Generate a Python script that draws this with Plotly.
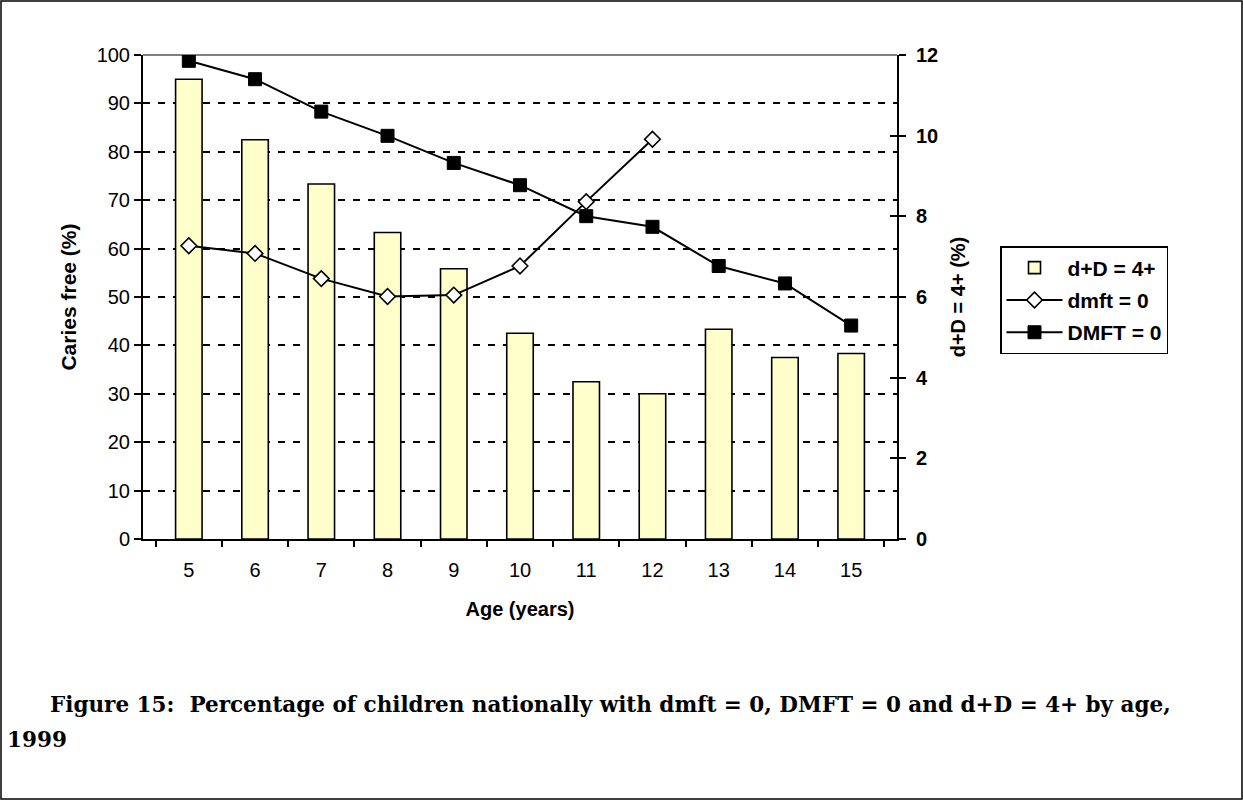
import plotly.graph_objects as go

ages = ["5", "6", "7", "8", "9", "10", "11", "12", "13", "14", "15"]
d_plus_D_4plus = [11.4, 9.9, 8.8, 7.6, 6.7, 5.1, 3.9, 3.6, 5.2, 4.5, 4.6]
dmft_ages = ["5", "6", "7", "8", "9", "10", "11", "12"]
dmft_0 = [60.6, 59.0, 53.8, 50.1, 50.4, 56.4, 69.7, 82.6]
DMFT_0 = [98.8, 95.0, 88.3, 83.3, 77.7, 73.1, 66.7, 64.5, 56.4, 52.8, 44.1]

left_ticks = [0, 10, 20, 30, 40, 50, 60, 70, 80, 90, 100]
right_ticks = [0, 2, 4, 6, 8, 10, 12]

W, H = 1243, 800
L, R, T, B = 143, 897, 55, 539  # plot area in pixels


def px(x):
    return (x - L) / (R - L)


def py(y):
    return (B - y) / (B - T)


AX = "Liberation Sans, Arial, sans-serif"

fig = go.Figure()
fig.add_trace(go.Bar(
    x=ages, y=d_plus_D_4plus, name="d+D = 4+", yaxis="y",
    marker=dict(color="#FFFFCC", line=dict(color="black", width=1.6)),
    legendgroup="a",
))
fig.add_trace(go.Scatter(
    x=dmft_ages, y=dmft_0, name="dmft = 0", yaxis="y2", mode="lines+markers",
    line=dict(color="black", width=2),
    marker=dict(symbol="diamond", size=12, color="white", line=dict(color="black", width=1.6)),
    legendgroup="b",
))
fig.add_trace(go.Scatter(
    x=ages, y=DMFT_0, name="DMFT = 0", yaxis="y2", mode="lines+markers",
    line=dict(color="black", width=2),
    marker=dict(symbol="square", size=13, color="black", line=dict(color="black", width=1)),
    legendgroup="c",
))
# helper axis (no data) for the inner half of the right axis' cross ticks
fig.add_trace(go.Scatter(x=[], y=[], yaxis="y3", showlegend=False, hoverinfo="skip"))

fig.update_layout(
    width=W, height=H,
    margin=dict(l=L, r=W - R, t=T, b=H - B, pad=0),
    paper_bgcolor="white", plot_bgcolor="white",
    font=dict(family=AX, color="black", size=20),
    bargap=0.6,
    showlegend=True,
    legend=dict(
        x=px(1000), y=py(246), xanchor="left", yanchor="top",
        bordercolor="black", borderwidth=1.5, bgcolor="white",
        font=dict(family=AX, size=21, color="black", weight="bold"),
        itemwidth=56, tracegroupgap=2,
    ),
    xaxis=dict(
        type="category", categoryorder="array", categoryarray=ages,
        showline=True, linecolor="black", linewidth=2,
        ticks="outside", ticklen=6, tickwidth=2, tickcolor="black",
        tickson="boundaries", showgrid=False, ticklabelstandoff=12,
        tickfont=dict(family=AX, size=20),
        title=dict(text="Age (years)", font=dict(family=AX, size=20, weight="bold"), standoff=22),
    ),
    yaxis=dict(
        side="right", range=[0, 12], tickvals=right_ticks,
        showline=True, linecolor="black", linewidth=2,
        ticks="outside", ticklen=7, tickwidth=2, tickcolor="black",
        showgrid=False, zeroline=False, ticklabelstandoff=6,
        tickfont=dict(family=AX, size=20, weight="bold"),
        title=dict(text="d+D = 4+ (%)", font=dict(family=AX, size=20, weight="bold"), standoff=14),
    ),
    yaxis3=dict(
        overlaying="y", side="right", range=[0, 12], tickvals=right_ticks,
        showline=False, ticks="inside", ticklen=7, tickwidth=2, tickcolor="black",
        showticklabels=False, showgrid=False, zeroline=False,
    ),
    yaxis2=dict(
        overlaying="y", side="left", range=[0, 100], tickvals=left_ticks,
        showline=True, linecolor="black", linewidth=2,
        ticks="outside", ticklen=7, tickwidth=2, tickcolor="black",
        showgrid=True, gridcolor="black", gridwidth=2, griddash="7px,8px",
        zeroline=False,
        tickfont=dict(family=AX, size=20),
        title=dict(text="Caries free (%)", font=dict(family=AX, size=21, weight="bold"), standoff=14),
    ),
)

# top border of plot area and outer frame
fig.add_shape(type="line", xref="paper", yref="paper", x0=0, x1=1, y0=1, y1=1,
              line=dict(color="black", width=1.2))
fig.add_shape(type="rect", xref="paper", yref="paper",
              x0=px(1), x1=px(1242), y0=py(799), y1=py(1),
              line=dict(color="black", width=1.5), fillcolor="rgba(0,0,0,0)")

CAP = "DejaVu Serif, serif"
fig.add_annotation(
    text="Figure 15:\u00a0 Percentage of children nationally with dmft = 0, DMFT = 0 and d+D = 4+ by age,",
    xref="paper", yref="paper", x=px(48), y=py(704), xanchor="left", yanchor="middle",
    showarrow=False, font=dict(family=CAP, size=21.5, color="black", weight="bold"),
)
fig.add_annotation(
    text="1999",
    xref="paper", yref="paper", x=px(5), y=py(739), xanchor="left", yanchor="middle",
    showarrow=False, font=dict(family=CAP, size=21.5, color="black", weight="bold"),
)

fig.write_html("out.html")
